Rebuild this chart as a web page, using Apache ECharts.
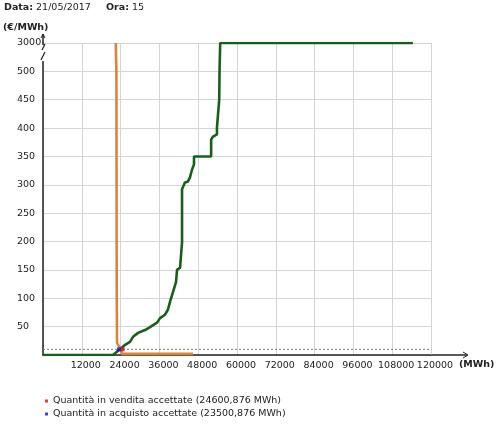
<!DOCTYPE html>
<html>
<head>
<meta charset="utf-8">
<script src="https://cdn.jsdelivr.net/npm/echarts@6/dist/echarts.min.js"></script>
<style>
  html, body { margin: 0; padding: 0; background: #fff; }
  #main { width: 500px; height: 432px; }
</style>
</head>
<body>
<div id="main"></div>
<script>
  // curva di offerta (verde)
  var offerteX = [0, 21650, 23800, 25400, 26900, 27850, 29400, 31550, 33100, 35250, 36200, 37700, 38650, 39300,
                  40200, 41150, 41450, 42400, 42700, 43000, 43000, 43900, 44850, 45450, 46100, 46700, 46700,
                  52000, 52000, 52600, 53800, 53800, 54400, 54500, 54600, 54800, 114400];
  var offerteY = [0, 0, 10, 18, 23, 32, 39, 44, 49, 57, 65, 71, 80, 94,
                  111, 129, 150, 154, 177, 198, 292, 304, 306, 313, 327, 336, 350,
                  350, 380, 385, 389, 401, 403, 450, 500, 3000, 3000];
  // curva di domanda (arancione)
  var domandeX = [22500, 22700, 22800, 22900, 24100, 24400, 46400];
  var domandeY = [3000, 500, 110, 21, 10, 2, 2];

  var prezzo = 10;
  var qVendita = 24600.876;
  var qAcquisto = 23500.876;

  var xMax = 120000;
  var xStep = 12000;
  var yStep = 50;
  var yTopLabel = '3000';

  var font = '"DejaVu Sans", Verdana, sans-serif';

  // asse spezzato: tra 500 e 3000 si comprime in 50 unità
  function mapY(p) {
    if (p <= 500) return p;
    if (p >= 3000) return 550;
    return 500 + (p - 500) / 2500 * 50;
  }
  function pairs(xs, ys) {
    var out = [];
    for (var i = 0; i < xs.length; i++) out.push([xs[i], mapY(ys[i])]);
    return out;
  }

  var chart = echarts.init(document.getElementById('main'));
  var option = {
    animation: false,
    backgroundColor: '#fff',
    title: [
      { text: '{b|Data:} 21/05/2017', left: 4, top: 3, padding: 0,
        textStyle: { fontFamily: font, fontSize: 9.5, fontWeight: 'normal', color: '#222',
                     rich: { b: { fontFamily: font, fontSize: 9.5, fontWeight: 'bold', color: '#222' } } } },
      { text: '{b|Ora:} 15', left: 106, top: 3, padding: 0,
        textStyle: { fontFamily: font, fontSize: 9.5, fontWeight: 'normal', color: '#222',
                     rich: { b: { fontFamily: font, fontSize: 9.5, fontWeight: 'bold', color: '#222' } } } },
      { text: '(€/MWh)', left: 3, top: 23, padding: 0,
        textStyle: { fontFamily: font, fontSize: 9.5, fontWeight: 'bold', color: '#222' } }
    ],
    legend: {
      orient: 'vertical', left: 45, top: 396, padding: 0,
      icon: 'rect', itemWidth: 3, itemHeight: 3, itemGap: 3,
      textStyle: { fontFamily: font, fontSize: 9.5, color: '#222' },
      data: ['Quantità in vendita accettate (24600,876 MWh)', 'Quantità in acquisto accettate (23500,876 MWh)']
    },
    grid: { left: 43, top: 43, right: 69, bottom: 77, containLabel: false, outerBoundsMode: 'none' },
    xAxis: {
      type: 'value', min: 0, max: xMax, interval: xStep,
      name: '(MWh)', nameLocation: 'end', nameGap: 28,
      nameTextStyle: { fontFamily: font, fontSize: 9.5, fontWeight: 'bold', color: '#222',
                       align: 'left', verticalAlign: 'top', padding: [5, 0, 0, 0] },
      axisLine: { show: true, lineStyle: { color: '#222', width: 1.5 } },
      axisTick: { show: false },
      axisLabel: { fontFamily: font, fontSize: 9.5, color: '#222', margin: 6, padding: [0, 0, 0, 8],
                   formatter: function (v) { return v === 0 ? '' : String(v); } },
      splitLine: { show: true, lineStyle: { color: '#d4d4d4', width: 1 } }
    },
    yAxis: {
      type: 'value', min: 0, max: 550, interval: yStep,
      axisLine: { show: true, lineStyle: { color: '#222', width: 1.5 } },
      axisTick: { show: false },
      axisLabel: { fontFamily: font, fontSize: 9.5, color: '#222', align: 'left', margin: 26,
                   formatter: function (v) { return v === 0 ? '' : (v === 550 ? yTopLabel : String(v)); } },
      splitLine: { show: true, lineStyle: { color: '#d4d4d4', width: 1 } }
    },
    series: [
      { type: 'line', name: 'prezzo', z: 1, symbol: 'none', silent: true,
        data: [[0, prezzo], [xMax, prezzo]],
        lineStyle: { color: '#777', width: 1, type: [2, 2] } },
      { type: 'line', name: 'offerte', z: 3, symbol: 'none',
        data: pairs(offerteX, offerteY),
        lineStyle: { color: '#1b5e1b', width: 2.6 } },
      { type: 'line', name: 'domande', z: 4, symbol: 'none',
        data: pairs(domandeX, domandeY),
        lineStyle: { color: '#d8843f', width: 2.6 } },
      { type: 'scatter', name: 'Quantità in vendita accettate (24600,876 MWh)', z: 6,
        symbol: 'rect', symbolSize: 4, itemStyle: { color: '#cc1111' },
        data: [[qVendita, prezzo]] },
      { type: 'scatter', name: 'Quantità in acquisto accettate (23500,876 MWh)', z: 6,
        symbol: 'rect', symbolSize: 4, itemStyle: { color: '#1111cc' },
        data: [[qAcquisto, prezzo]] }
    ],
    graphic: [
      // prolungamento asse x con freccia
      { type: 'line', shape: { x1: 431, y1: 355, x2: 467, y2: 355 }, style: { stroke: '#222', lineWidth: 1.5 } },
      { type: 'polyline', shape: { points: [[463, 352], [468, 355], [463, 358]] }, style: { stroke: '#222', lineWidth: 1, fill: null } },
      // prolungamento asse y con freccia
      { type: 'line', shape: { x1: 43, y1: 43, x2: 43, y2: 34 }, style: { stroke: '#222', lineWidth: 1.5 } },
      { type: 'polyline', shape: { points: [[41, 38], [43, 34], [45, 38]] }, style: { stroke: '#222', lineWidth: 1, fill: null } },
      // interruzione dell'asse y
      { type: 'rect', shape: { x: 40, y: 45, width: 6, height: 16 }, style: { fill: '#fff' }, z: 100 },
      { type: 'line', shape: { x1: 42, y1: 50, x2: 45, y2: 44 }, style: { stroke: '#222', lineWidth: 1.2 }, z: 101 },
      { type: 'line', shape: { x1: 41, y1: 60, x2: 45, y2: 52 }, style: { stroke: '#222', lineWidth: 1.2 }, z: 101 }
    ]
  };
  chart.setOption(option);
</script>
</body>
</html>
